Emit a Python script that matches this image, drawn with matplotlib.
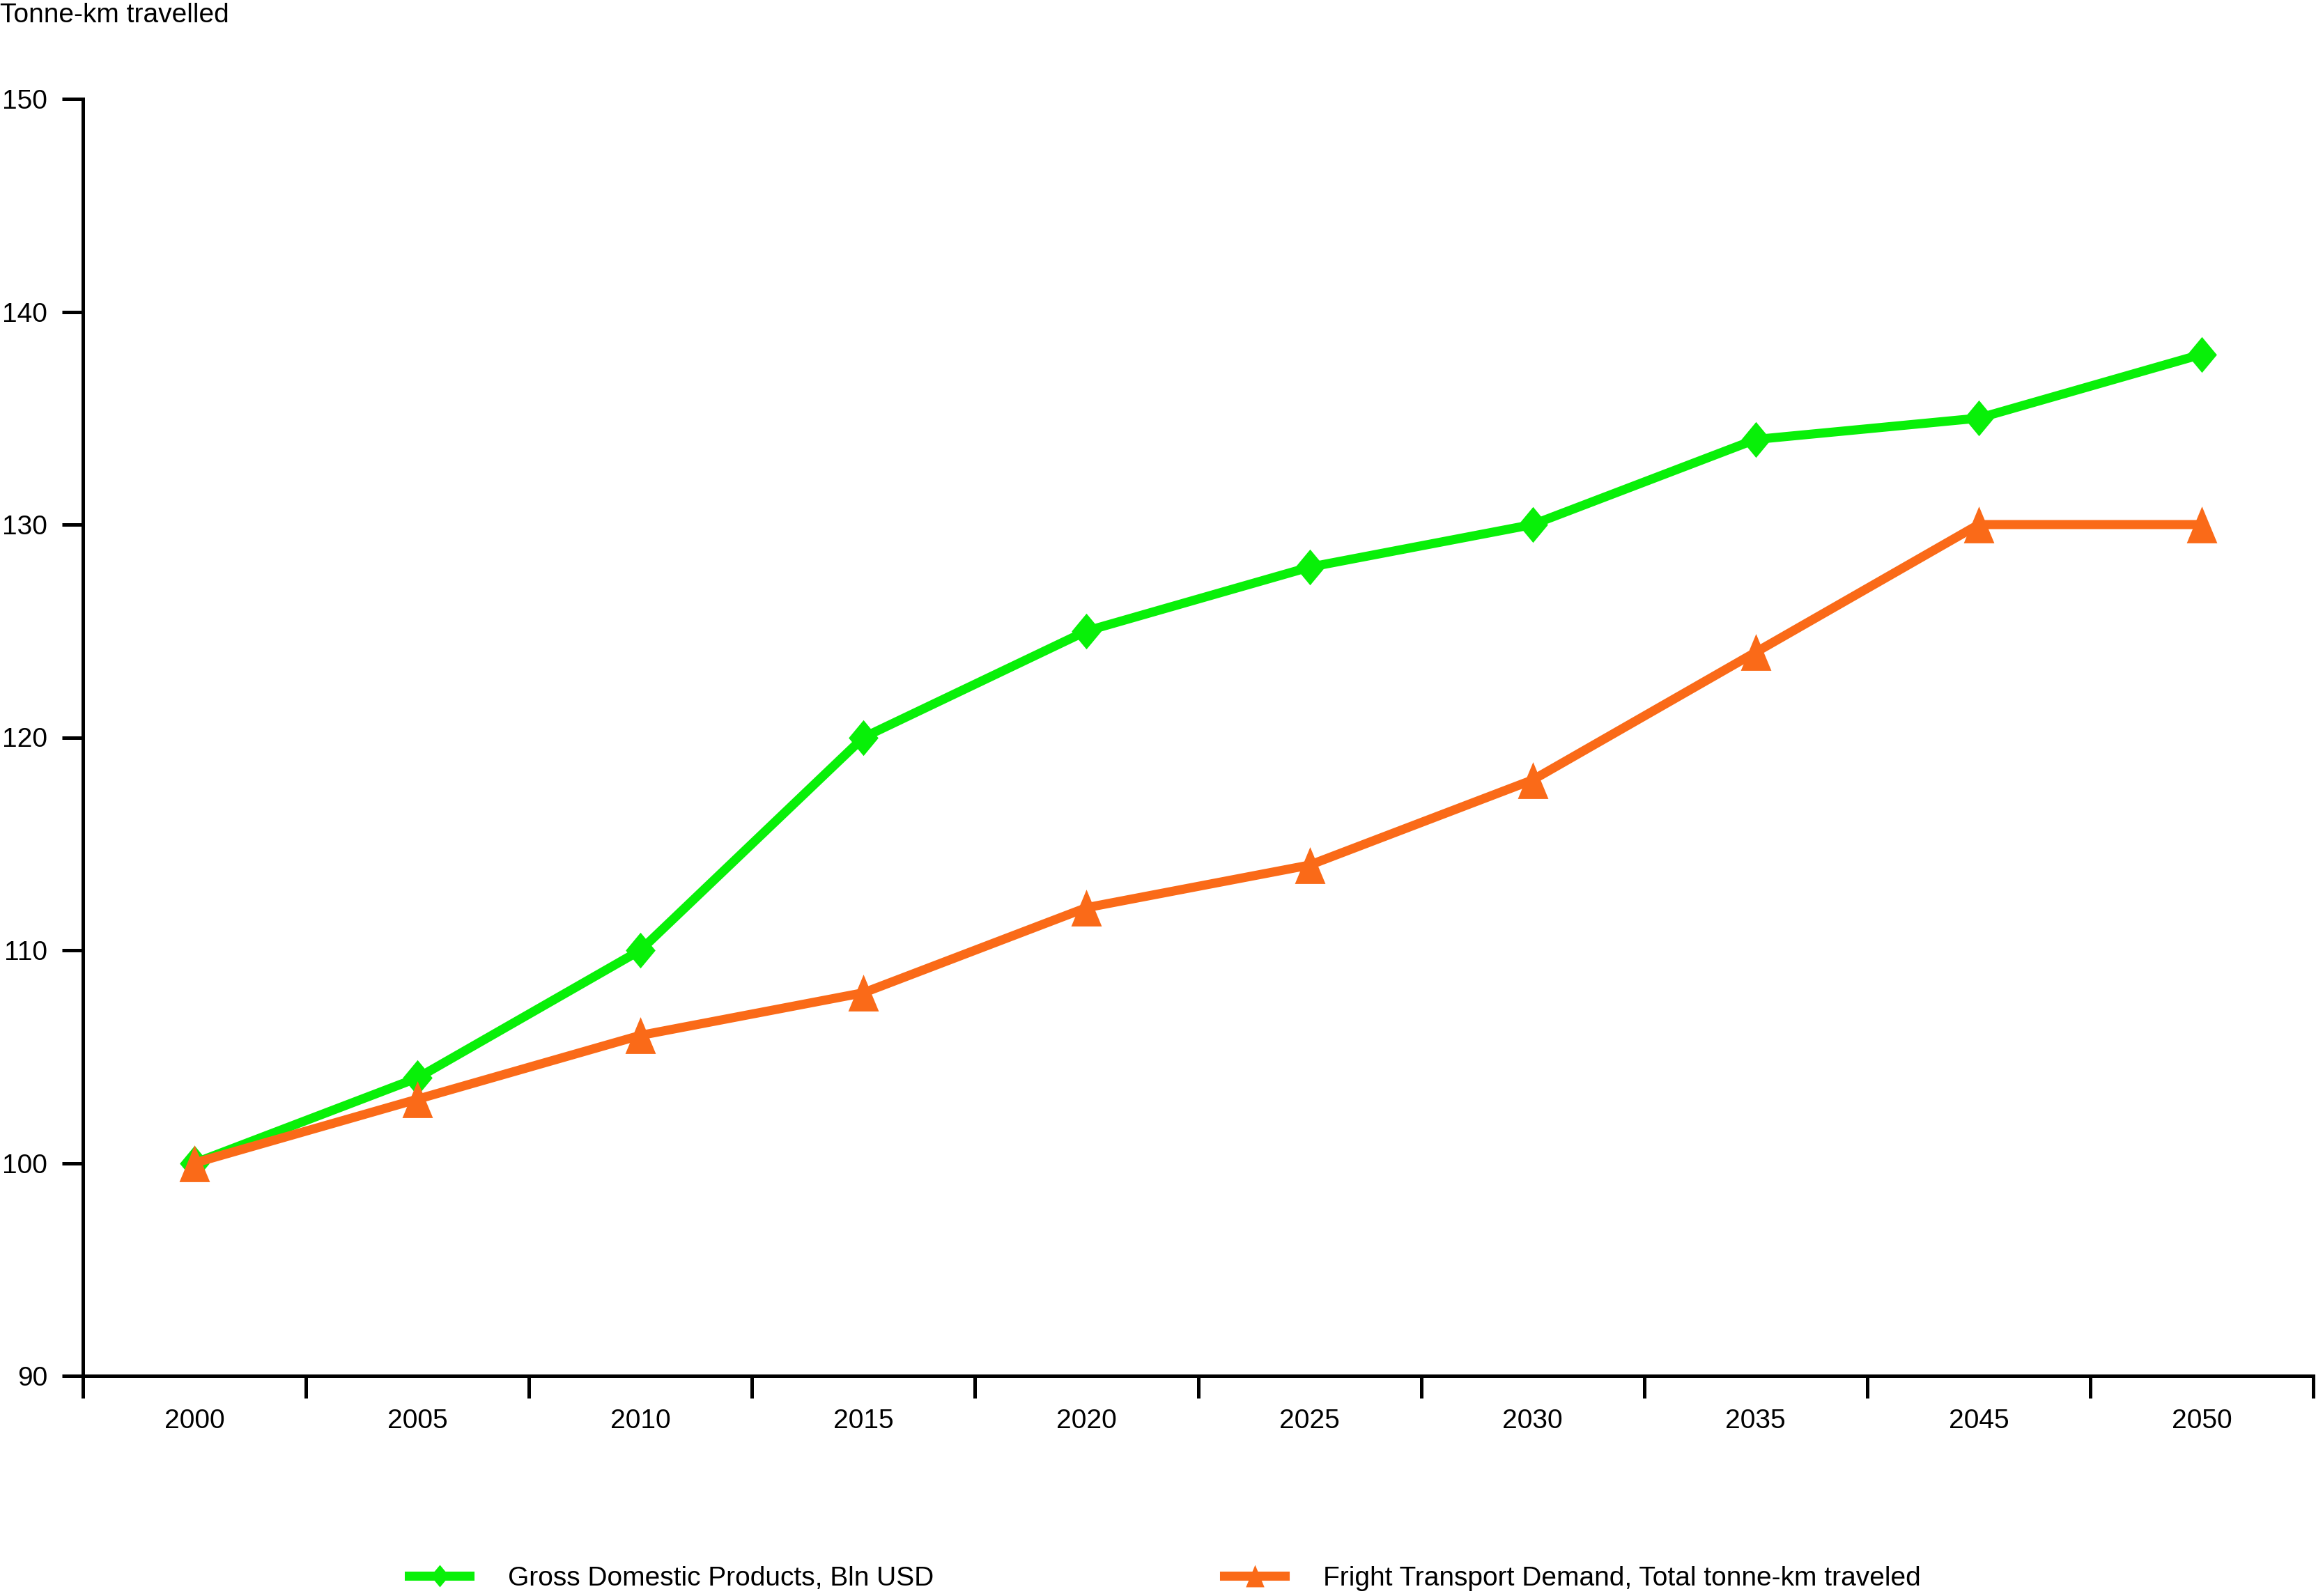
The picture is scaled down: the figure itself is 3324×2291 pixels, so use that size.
import numpy as np
import matplotlib
matplotlib.use('Agg')
import matplotlib.pyplot as plt
from matplotlib.lines import Line2D

plt.rcParams['font.family'] = ['Liberation Sans', 'DejaVu Sans']

# data
years = ['2000', '2005', '2010', '2015', '2020', '2025', '2030', '2035', '2045', '2050']
gdp = [100, 104, 110, 120, 125, 128, 130, 134, 135, 138]
freight = [100, 103, 106, 108, 112, 114, 118, 124, 130, 130]
gdp_label = 'Gross Domestic Products, Bln USD'
freight_label = 'Fright Transport Demand, Total tonne-km traveled'
ylabel = 'Tonne-km travelled'
yticks = [90, 100, 110, 120, 130, 140, 150]

W, H = 3324, 2291
DPI = 100
FS = 28  # pt
green = '#08F008'
orange = '#FA6A18'

diamond = [(0, 1), (0.83, 0), (0, -1), (-0.83, 0), (0, 1)]
triangle = [(0, 1), (0.83, -1), (-0.83, -1), (0, 1)]

fig = plt.figure(figsize=(W / DPI, H / DPI), dpi=DPI)
left, right, top, bottom = 119, 3320, 142, 1975
ax = fig.add_axes([left / W, 1 - bottom / H, (right - left) / W, (bottom - top) / H])

x = np.arange(len(years))
ax.plot(x, gdp, color=green, lw=9.4, marker=diamond, ms=37, mew=0, solid_joinstyle='miter')
ax.plot(x, freight, color=orange, lw=9.4, marker=triangle, ms=38, mew=0, solid_joinstyle='miter')

ax.set_xlim(-0.5, len(years) - 0.5)
ax.set_ylim(90, 150)
ax.set_yticks(yticks)
ax.set_yticklabels([str(v) for v in yticks], fontsize=FS)
ax.set_xticks(x)
ax.set_xticklabels(years, fontsize=FS)
ax.set_xticks(np.arange(-0.5, len(years)), minor=True)

for s in ['top', 'right']:
    ax.spines[s].set_visible(False)
for s in ['left', 'bottom']:
    ax.spines[s].set_linewidth(3.6)

ax.tick_params(axis='y', direction='out', length=21.6, width=3.6, pad=15)
ax.tick_params(axis='x', which='major', length=0, pad=34)
ax.tick_params(axis='x', which='minor', direction='out', length=23, width=3.6)

fig.text(0, 1 - 4 / H, ylabel, fontsize=FS, ha='left', va='top')

handles = [
    Line2D([], [], color=green, lw=9.4, marker=diamond, ms=23, mew=0),
    Line2D([], [], color=orange, lw=9.4, marker=triangle, ms=23, mew=0),
]
fs_px = FS * DPI / 72
fig.legend(handles, [gdp_label, freight_label], loc='center left',
           bbox_to_anchor=(587 / W, 1 - 2266 / H), ncol=2, frameon=False,
           fontsize=FS, borderpad=0, borderaxespad=0,
           handlelength=87 / fs_px, handletextpad=55 / fs_px,
           columnspacing=417 / fs_px)

fig.savefig('out.png', dpi=DPI)
